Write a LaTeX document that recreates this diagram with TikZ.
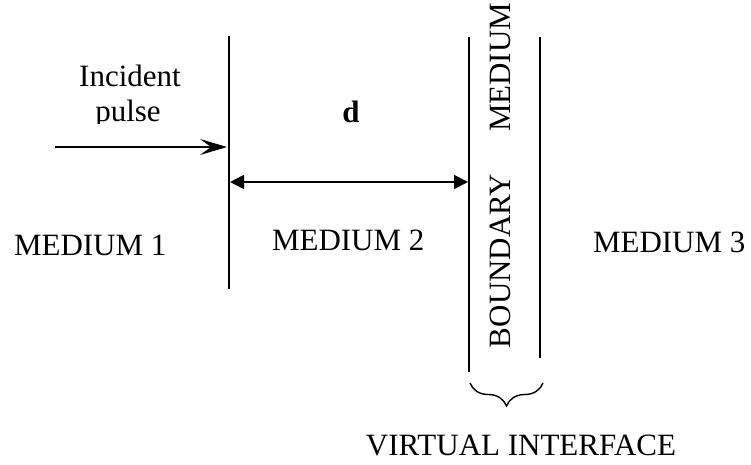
\documentclass[tikz,border=0pt]{standalone}
\usepackage{fontspec}
\setmainfont{Liberation Serif}
\usetikzlibrary{arrows.meta,decorations.pathreplacing}
\begin{document}
\begin{tikzpicture}[x=1pt,y=-1pt,
  lbl/.style={font=\fontsize{31}{31}\selectfont, inner sep=0pt, outer sep=0pt},
  wall/.style={line width=1.6pt},
  conn/.style={line width=1.6pt}]
\useasboundingbox (0,0) rectangle (751,465);
% walls
\coordinate (w1t) at (229,36);
\coordinate (w1b) at (229,289);
\coordinate (w2t) at (469,37);
\coordinate (w2b) at (469,372);
\coordinate (w3t) at (540,37);
\coordinate (w3b) at (540,358);
\draw[wall] (w1t) -- (w1b);
\draw[wall] (w2t) -- (w2b);
\draw[wall] (w3t) -- (w3b);
% incident pulse
\node[lbl, anchor=base] (inc) at (130,87) {Incident};
\begin{scope}
\clip (0,0) rectangle (751,124);
\node[lbl, anchor=base] (pul) at (128,122) {pulse};
\end{scope}
\coordinate (ia) at (55,147);
\coordinate (ib) at (227,147);
\draw[conn, line width=1.3pt, -{Stealth[length=27pt,width=16pt,inset=11pt]}] (ia) -- (ib);
% distance d
\node[lbl, anchor=base, font=\fontsize{31}{31}\selectfont\bfseries] (d) at (351,123) {d};
\coordinate (da) at (230,182);
\coordinate (db) at (468,182);
\draw[conn, {Triangle[length=14pt,width=14pt]}-{Triangle[length=14pt,width=14pt]}] (da) -- (db);
% media
\node[lbl, anchor=base west] (m1) at (14,255) {MEDIUM 1};
\node[lbl, anchor=base west] (m2) at (272,250) {MEDIUM 2};
\node[lbl, anchor=base west] (m3) at (593,252) {MEDIUM 3};
% boundary medium
\node[lbl, rotate=90, anchor=base west] (bd) at (510,348) {BOUNDARY};
\node[lbl, rotate=90, anchor=base west] (bm) at (510,132) {MEDIUM};
% brace
\coordinate (ba) at (470,383);
\coordinate (bb) at (543,383);
\draw[line width=1.4pt, decorate, decoration={brace, mirror, amplitude=23pt}] (ba) -- (bb);
\node[lbl, anchor=base] (vi) at (521,455) {VIRTUAL INTERFACE};
\end{tikzpicture}
\end{document}
